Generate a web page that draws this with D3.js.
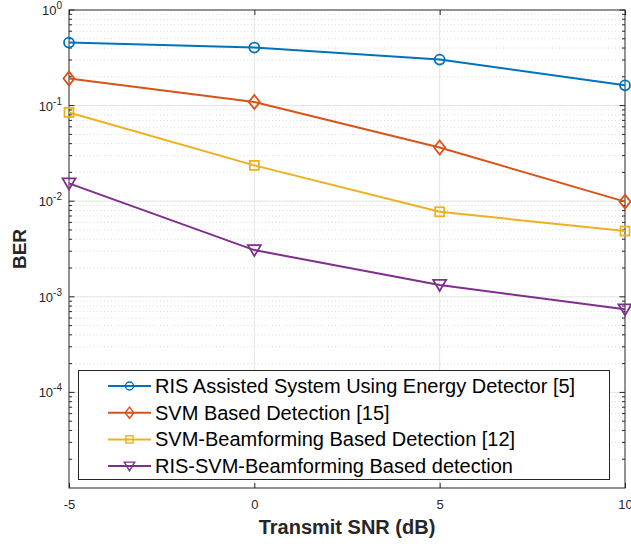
<!DOCTYPE html>
<html>
<head>
<meta charset="utf-8">
<script src="https://cdn.jsdelivr.net/npm/d3@7"></script>
<style>
  body { margin: 0; background: #fff; }
  svg { font-family: "Liberation Sans", Arial, sans-serif; }
</style>
</head>
<body>
<div id="chart"></div>
<script>
// data
var snr = [-5, 0, 5, 10];
var berEnergy = [0.456, 0.405, 0.303, 0.163];
var berSvm = [0.192, 0.109, 0.0365, 0.0099];
var berSvmBf = [0.0847, 0.0237, 0.00775, 0.00487];
var berRisSvmBf = [0.01535, 0.00308, 0.00133, 0.00074];
var seriesNames = [
  "RIS Assisted System Using Energy Detector [5]",
  "SVM Based Detection [15]",
  "SVM-Beamforming Based Detection [12]",
  "RIS-SVM-Beamforming Based detection"
];
var xTicks = [-5, 0, 5, 10];
var xTickLabels = ["-5", "0", "5", "10"];
var yDecades = [1e-4, 1e-3, 1e-2, 1e-1, 1e0];

var colors = ["#0072BD", "#D95319", "#EDB120", "#7E2F8E"];
var markers = ["circle", "diamond", "square", "triangle"];
var allSeries = [berEnergy, berSvm, berSvmBf, berRisSvmBf];

var margin = {t: 10, r: 6, b: 56, l: 69},
    W = 631, H = 544,
    w = W - margin.l - margin.r,
    h = H - margin.t - margin.b;

var x = d3.scaleLinear().domain([-5, 10]).range([0, w]);
var y = d3.scaleLog().domain([1e-5, 1]).range([h, 0]);

var svg = d3.select("#chart").append("svg")
  .attr("width", W).attr("height", H);

var g = svg.append("g").attr("transform", "translate(" + margin.l + "," + margin.t + ")");

// minor grid (dotted)
var minorVals = [];
for (var e = -5; e < 0; e++) {
  for (var k = 2; k <= 9; k++) minorVals.push(k * Math.pow(10, e));
}
g.selectAll(".minor").data(minorVals).enter().append("line")
  .attr("x1", 0).attr("x2", w)
  .attr("y1", function(d) { return y(d); })
  .attr("y2", function(d) { return y(d); })
  .attr("stroke", "#cfcfcf").attr("stroke-width", 0.8)
  .attr("stroke-dasharray", "1,2.5");

// major grid
g.selectAll(".hmajor").data([1e-4, 1e-3, 1e-2, 1e-1]).enter().append("line")
  .attr("x1", 0).attr("x2", w)
  .attr("y1", function(d) { return y(d); })
  .attr("y2", function(d) { return y(d); })
  .attr("stroke", "#e3e3e3").attr("stroke-width", 1);
g.selectAll(".vmajor").data([0, 5]).enter().append("line")
  .attr("y1", 0).attr("y2", h)
  .attr("x1", function(d) { return x(d); })
  .attr("x2", function(d) { return x(d); })
  .attr("stroke", "#e3e3e3").attr("stroke-width", 1);

// axes (ticks inward, box)
var axisColor = "#262626";
function styleAxis(sel) {
  sel.select(".domain").remove();
  sel.selectAll("line").attr("stroke", axisColor);
  sel.selectAll("text").attr("fill", axisColor).style("font-size", "13px");
}
var xAxisB = d3.axisBottom(x).tickValues(xTicks).tickSize(-5).tickPadding(12)
  .tickFormat(function(d, i) { return xTickLabels[i]; });
g.append("g").attr("transform", "translate(0," + h + ")").call(xAxisB).call(styleAxis);
var xAxisT = d3.axisTop(x).tickValues(xTicks).tickSize(-5).tickFormat("");
g.append("g").call(xAxisT).call(styleAxis);

var yAll = minorVals.concat(yDecades);
[0, w].forEach(function(x0) {
  var dir = x0 === 0 ? 1 : -1;
  g.selectAll(null).data(yAll).enter().append("line")
    .attr("x1", x0)
    .attr("x2", function(d) { return x0 + dir * (yDecades.indexOf(d) >= 0 || d === 1e-5 ? 5.5 : 3); })
    .attr("y1", function(d) { return y(d); })
    .attr("y2", function(d) { return y(d); })
    .attr("stroke", axisColor).attr("stroke-width", 1);
});

// y tick labels 10^n
var ylab = g.selectAll(".ylab").data(yDecades).enter().append("text")
  .attr("x", -7).attr("y", function(d) { return y(d) + 5; })
  .attr("text-anchor", "end").attr("fill", axisColor).style("font-size", "13px");
ylab.append("tspan").text("10");
ylab.append("tspan").attr("dy", -6).style("font-size", "10px")
  .text(function(d) { return Math.round(Math.log10(d)); });

// box
g.append("rect").attr("x", 0).attr("y", 0).attr("width", w).attr("height", h)
  .attr("fill", "none").attr("stroke", axisColor).attr("stroke-width", 1);

// lines and markers
var line = d3.line().x(function(d, i) { return x(snr[i]); }).y(function(d) { return y(d); });

function drawMarker(sel, type, color) {
  if (type === "circle") {
    sel.append("circle").attr("r", 5);
  } else if (type === "diamond") {
    sel.append("path").attr("d", "M0,-7L5.5,0L0,7L-5.5,0Z");
  } else if (type === "square") {
    sel.append("rect").attr("x", -4.5).attr("y", -4.5).attr("width", 9).attr("height", 9);
  } else {
    sel.append("path").attr("d", "M-6.5,-5L6.5,-5L0,6Z");
  }
  sel.selectAll("*").attr("fill", "none").attr("stroke", color).attr("stroke-width", 1.8);
}

allSeries.forEach(function(s, k) {
  g.append("path").datum(s).attr("d", line)
    .attr("fill", "none").attr("stroke", colors[k]).attr("stroke-width", 2);
  s.forEach(function(v, i) {
    var m = g.append("g").attr("transform", "translate(" + x(snr[i]) + "," + y(v) + ")");
    drawMarker(m, markers[k], colors[k]);
  });
});

// legend
var lg = svg.append("g");
lg.append("rect").attr("x", 78.5).attr("y", 370.5).attr("width", 531).attr("height", 109)
  .attr("fill", "#fff").attr("stroke", axisColor).attr("stroke-width", 1);
seriesNames.forEach(function(name, k) {
  var yy = 386 + k * 26.7;
  lg.append("line").attr("x1", 108).attr("x2", 151).attr("y1", yy).attr("y2", yy)
    .attr("stroke", colors[k]).attr("stroke-width", 2);
  var m = lg.append("g").attr("transform", "translate(129.5," + yy + ") scale(0.8)");
  drawMarker(m, markers[k], colors[k]);
  lg.append("text").attr("x", 155).attr("y", yy + 7).attr("fill", "#000")
    .style("font-size", "20px").text(name);
});

// axis labels
svg.append("text").attr("x", margin.l + w / 2).attr("y", 534)
  .attr("text-anchor", "middle").attr("fill", axisColor)
  .style("font-size", "20px").style("font-weight", "bold").text("Transmit SNR (dB)");
svg.append("text").attr("transform", "translate(26," + (margin.t + h / 2) + ") rotate(-90)")
  .attr("text-anchor", "middle").attr("fill", axisColor)
  .style("font-size", "19px").style("font-weight", "bold").text("BER");
</script>
</body>
</html>
